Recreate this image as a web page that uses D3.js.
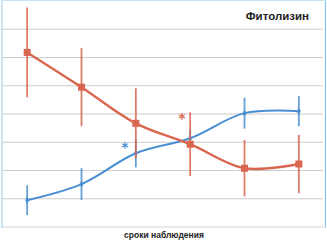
<!DOCTYPE html>
<html><head><meta charset="utf-8">
<script src="https://cdn.jsdelivr.net/npm/d3@7"></script>
<style>html,body{margin:0;padding:0;background:#fff;}svg{display:block;}</style>
</head><body>
<svg id="c" width="327" height="241"></svg>
<script>
const categories = ["1","2","3","4","5","6"];
const redValues = [6.18, 4.95, 3.67, 2.93, 2.08, 2.23];
const redErrors = [1.59, 1.38, 1.24, 1.13, 1.0, 1.03];
const blueValues = [0.95, 1.52, 2.61, 3.14, 4.03, 4.10];
const blueErrors = [0.53, 0.56, 0.5, 0.3, 0.55, 0.53];
const yTicks = [1,2,3,4,5,6,7];
const title = "Фитолизин";
const xLabel = "сроки наблюдения";
const blueStar = {cat: 2, dx: -0.2, value: 2.86};
const redStar = {cat: 3, dx: -0.15, value: 3.89};

const svg = d3.select("#c");
const x = d3.scalePoint().domain(categories).range([0, 326]).padding(0.5);
const y = d3.scaleLinear().domain([0, 8]).range([227, 1]);
const step = x.step();

const red = "#d9664f", blue = "#4a8fd4";

svg.append("g").selectAll("line").data(yTicks).join("line")
  .attr("x1", 3).attr("x2", 323)
  .attr("y1", d => y(d)).attr("y2", d => y(d))
  .attr("stroke", "#cccccc").attr("stroke-width", 1.2);

svg.append("line").attr("x1", 2).attr("x2", 2).attr("y1", 0).attr("y2", 228).attr("stroke", "#a9d2ee").attr("stroke-width", 1.2);
svg.append("line").attr("x1", 325.5).attr("x2", 325.5).attr("y1", 0).attr("y2", 228).attr("stroke", "#8ec3ea").attr("stroke-width", 1.2);
svg.append("line").attr("x1", 2).attr("x2", 326).attr("y1", y(0)).attr("y2", y(0)).attr("stroke", "#d6d6d6").attr("stroke-width", 1);
svg.append("line").attr("x1", 2).attr("x2", 326).attr("y1", 0.5).attr("y2", 0.5).attr("stroke", "#c7e2f3").attr("stroke-width", 1);

function series(vals, errs, color, marker, lw) {
  const data = vals.map((v, i) => ({c: categories[i], v, e: errs[i]}));
  const g = svg.append("g");
  g.selectAll("line.err").data(data).join("line")
    .attr("x1", d => x(d.c)).attr("x2", d => x(d.c))
    .attr("y1", d => y(d.v + d.e)).attr("y2", d => y(d.v - d.e))
    .attr("stroke", color).attr("stroke-width", 1.8).attr("opacity", 0.85);
  const line = d3.line().x(d => x(d.c)).y(d => y(d.v)).curve(d3.curveCatmullRom.alpha(0.5));
  g.append("path").datum(data).attr("d", line)
    .attr("fill", "none").attr("stroke", color).attr("stroke-width", lw);
  if (marker === "square") {
    g.selectAll("rect").data(data).join("rect")
      .attr("x", d => x(d.c) - 3.5).attr("y", d => y(d.v) - 3.5)
      .attr("width", 7).attr("height", 7).attr("fill", color);
  } else {
    g.selectAll("path.m").data(data).join("path")
      .attr("transform", d => `translate(${x(d.c)},${y(d.v)})`)
      .attr("d", d3.symbol(d3.symbolDiamond, 14)).attr("fill", color);
  }
}
series(blueValues, blueErrors, blue, "diamond", 2);
series(redValues, redErrors, red, "square", 2.4);

svg.append("text").attr("x", x(categories[blueStar.cat]) + blueStar.dx * step).attr("y", y(blueStar.value) + 6)
  .attr("text-anchor", "middle").attr("font-family", "DejaVu Sans, sans-serif").attr("font-weight", "bold")
  .attr("font-size", 14).attr("fill", blue).text("*");
svg.append("text").attr("x", x(categories[redStar.cat]) + redStar.dx * step).attr("y", y(redStar.value) + 6)
  .attr("text-anchor", "middle").attr("font-family", "DejaVu Sans, sans-serif").attr("font-weight", "bold")
  .attr("font-size", 14).attr("fill", red).text("*");

svg.append("text").attr("x", 309).attr("y", 20).attr("text-anchor", "end")
  .attr("font-family", "Liberation Sans, Arial, sans-serif").attr("font-weight", "bold")
  .attr("font-size", 11.5).attr("fill", "#222").text(title);

svg.append("text").attr("x", 164).attr("y", 238).attr("text-anchor", "middle")
  .attr("font-family", "Liberation Sans, Arial, sans-serif").attr("font-weight", "bold")
  .attr("font-size", 8.5).attr("fill", "#222").text(xLabel);
</script>
</body></html>
